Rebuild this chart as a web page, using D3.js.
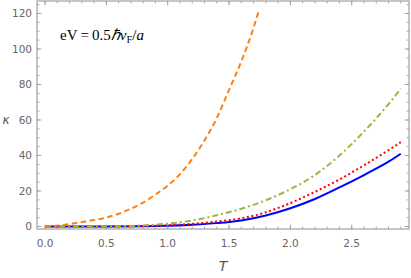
<!DOCTYPE html>
<html>
<head>
<meta charset="utf-8">
<script src="https://cdn.jsdelivr.net/npm/d3@7"></script>
<style>
  body { margin: 0; background: #fff; }
  svg { display: block; }
  .tick-label { font-family: "DejaVu Sans", sans-serif; font-size: 10.5px; fill: #666; }
</style>
</head>
<body>
<div class="content"></div>
<script>
// values
var orangeT = [0, 0.1, 0.2, 0.3, 0.4, 0.5, 0.6, 0.7, 0.8, 0.9, 1.0, 1.1, 1.2, 1.3, 1.4, 1.5, 1.6, 1.7, 1.74];
var orangeK = [0, 0.5, 1.4, 2.5, 3.6, 5.0, 7.2, 10, 13.5, 18, 23, 29.5, 38, 48.5, 61, 77, 93, 112, 121];

var greenT = [0, 0.5, 0.8, 1.0, 1.2, 1.4, 1.6, 1.8, 2.0, 2.2, 2.4, 2.6, 2.8, 2.9];
var greenK = [0, 0.1, 0.6, 1.6, 3.4, 6.3, 10, 14.8, 21, 29, 40, 53.5, 69, 77.6];

var redT = [0, 0.5, 0.8, 1.0, 1.2, 1.4, 1.6, 1.8, 2.0, 2.2, 2.4, 2.6, 2.8, 2.9];
var redK = [0, 0.05, 0.3, 0.7, 1.5, 2.8, 4.6, 8, 13.2, 19.5, 26.5, 34.5, 43, 47.5];

var blueT = [0, 0.5, 0.8, 1.0, 1.2, 1.4, 1.6, 1.8, 2.0, 2.2, 2.4, 2.6, 2.8, 2.9];
var blueK = [0, 0.02, 0.15, 0.4, 1.0, 1.9, 3.4, 6.2, 10.3, 15.5, 22, 29, 36.5, 41];

var xTicks = [0, 0.5, 1.0, 1.5, 2.0, 2.5];
var yTicks = [0, 20, 40, 60, 80, 100, 120];

var width = 411, height = 278;
var frame = {left: 37, right: 409, top: 1, bottom: 229};

var svg = d3.select(".content")
    .append("svg")
    .attr("width", width)
    .attr("height", height);

var x = d3.scaleLinear()
    .domain([-0.0652, 2.967])
    .range([frame.left, frame.right]);

var y = d3.scaleLinear()
    .domain([-1.41, 127.04])
    .range([frame.bottom, frame.top]);

// curves
var series = [
    {t: blueT,   k: blueK,   color: "#0000ff", dash: null},
    {t: redT,    k: redK,    color: "#ff0000", dash: "2,2.6"},
    {t: greenT,  k: greenK,  color: "#99b83c", dash: "6,3,2,3"},
    {t: orangeT, k: orangeK, color: "#ff8010", dash: "5.5,3.5"}
];

var line = d3.line()
    .x(function(d) { return x(d[0]) })
    .y(function(d) { return y(d[1]) })
    .curve(d3.curveMonotoneX);

series.forEach(function(s) {
    var pts = s.t.map(function(t, i) { return [t, s.k[i]] });
    svg.append("path")
        .datum(pts)
        .attr("fill", "none")
        .attr("stroke", s.color)
        .attr("stroke-width", 2)
        .attr("stroke-dasharray", s.dash)
        .attr("d", line);
});

// frame
var frameColor = "#b4b4b4";
svg.append("rect")
    .attr("x", frame.left)
    .attr("y", frame.top)
    .attr("width", frame.right - frame.left)
    .attr("height", frame.bottom - frame.top)
    .attr("fill", "none")
    .attr("stroke", frameColor)
    .attr("stroke-width", 1.5);

var tickColor = "#999";
var xMinor = d3.range(0, 30).map(function(i) { return i / 10 }).filter(function(v) { return v <= 2.95 });
var yMinor = d3.range(0, 126, 5);

function tickX(v, len) {
    svg.append("line").attr("x1", x(v)).attr("x2", x(v))
        .attr("y1", frame.bottom).attr("y2", frame.bottom - len)
        .attr("stroke", tickColor).attr("stroke-width", 0.8);
    svg.append("line").attr("x1", x(v)).attr("x2", x(v))
        .attr("y1", frame.top).attr("y2", frame.top + len)
        .attr("stroke", tickColor).attr("stroke-width", 0.8);
}
function tickY(v, len) {
    svg.append("line").attr("y1", y(v)).attr("y2", y(v))
        .attr("x1", frame.left).attr("x2", frame.left + len)
        .attr("stroke", tickColor).attr("stroke-width", 0.8);
    svg.append("line").attr("y1", y(v)).attr("y2", y(v))
        .attr("x1", frame.right).attr("x2", frame.right - len)
        .attr("stroke", tickColor).attr("stroke-width", 0.8);
}
xMinor.forEach(function(v) { tickX(v, 2.5) });
xTicks.forEach(function(v) { tickX(v, 4.5) });
yMinor.forEach(function(v) { tickY(v, 2.5) });
yTicks.forEach(function(v) { tickY(v, 4.5) });

// tick labels
svg.selectAll(".xl")
    .data(xTicks)
    .enter()
    .append("text")
    .attr("class", "tick-label")
    .attr("x", function(d) { return x(d) })
    .attr("y", 247)
    .attr("text-anchor", "middle")
    .text(function(d) { return d3.format(".1f")(d) });

svg.selectAll(".yl")
    .data(yTicks)
    .enter()
    .append("text")
    .attr("class", "tick-label")
    .attr("x", 32)
    .attr("y", function(d) { return y(d) + 4 })
    .attr("text-anchor", "end")
    .text(function(d) { return d });

// axis labels
svg.append("text")
    .attr("x", 223)
    .attr("y", 271)
    .attr("text-anchor", "middle")
    .style("font-family", "DejaVu Sans, sans-serif")
    .style("font-style", "italic")
    .style("font-size", "14px")
    .style("fill", "#555")
    .text("T");

svg.append("text")
    .attr("x", 6)
    .attr("y", 124)
    .attr("text-anchor", "middle")
    .style("font-family", "DejaVu Sans, sans-serif")
    .style("font-style", "italic")
    .style("font-size", "12px")
    .style("fill", "#555")
    .text("κ");

// annotation
var note = svg.append("text")
    .attr("x", 60)
    .attr("y", 40)
    .style("font-family", "Liberation Serif, serif")
    .style("font-size", "15px")
    .style("fill", "#000");
note.append("tspan").text("eV\u2009=\u20090.5");
note.append("tspan").style("font-style", "italic").text("ℏv");
note.append("tspan").attr("dy", 3).style("font-size", "10.5px").text("F");
note.append("tspan").attr("dy", -3).text("/");
note.append("tspan").style("font-style", "italic").text("a");
</script>
</body>
</html>
